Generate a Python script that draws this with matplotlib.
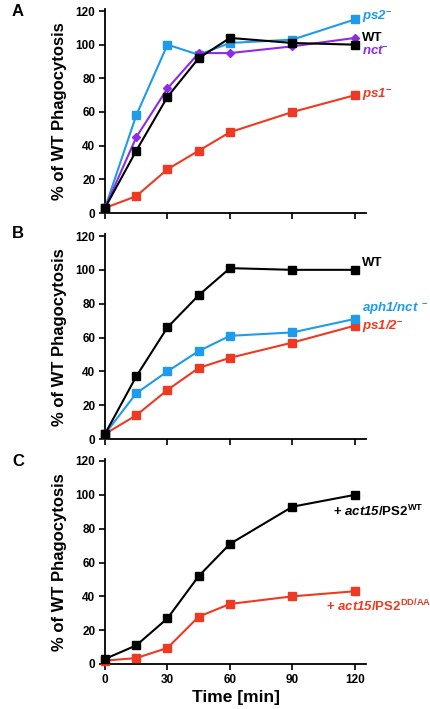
import matplotlib
matplotlib.use('Agg')
import matplotlib.pyplot as plt

plt.rcParams.update({
    'font.family': ['Liberation Sans', 'DejaVu Sans'],
    'font.weight': 'bold',
    'mathtext.fontset': 'custom',
    'mathtext.rm': 'Liberation Sans:bold',
    'mathtext.it': 'Liberation Sans:italic:bold',
    'mathtext.sf': 'Liberation Sans:italic:bold',
    'mathtext.bf': 'Liberation Sans:bold',
})

C_BLACK = '#000000'
C_BLUE = '#1E9BEA'
C_RED = '#EE3A22'
C_PURPLE = '#8E2BE6'

time_min = [0, 15, 30, 45, 60, 90, 120]

# panel A
a_ps2 = [3, 58, 100, 94, 101, 103, 115]
a_wt = [3, 37, 69, 92, 104, 101, 100]
a_nct = [3, 45, 74, 95, 95, 99, 104]
a_ps1 = [3, 10, 26, 37, 48, 60, 70]

# panel B
b_wt = [3, 37, 66, 85, 101, 100, 100]
b_aph1 = [3, 27, 40, 52, 61, 63, 71]
b_ps12 = [3, 14, 29, 42, 48, 57, 67]

# panel C
c_wt = [3, 11, 27, 52, 71, 93, 100]
c_ddaa = [2, 3.5, 9.5, 28, 35.5, 40, 43]

yticks = [0, 20, 40, 60, 80, 100, 120]
xticks = [0, 30, 60, 90, 120]

fig = plt.figure(figsize=(4.31, 7.09), dpi=100)
W, H = 431, 709


def make_ax(y0_px, y120_px):
    left = 105 / W
    width = (366 - 105) / W
    bottom = 1 - y0_px / H
    height = (y0_px - y120_px) / H * 121 / 120
    ax = fig.add_axes([left, bottom, width, height])
    ax.set_xlim(0, 125.3)
    ax.set_ylim(0, 121)
    for s in ('top', 'right'):
        ax.spines[s].set_visible(False)
    for s in ('left', 'bottom'):
        ax.spines[s].set_linewidth(1.3)
    ax.set_yticks(yticks)
    ax.set_xticks(xticks)
    ax.tick_params(direction='out', length=4, width=1.2, labelsize=8.5, pad=3)
    for lab in ax.get_yticklabels() + ax.get_xticklabels():
        lab.set_fontweight('bold')
    ax.set_ylabel('% of WT Phagocytosis', fontsize=12, fontweight='bold', labelpad=6)
    return ax


def series(ax, y, color, marker='s', ms=5.5, z=3):
    ax.plot(time_min, y, color=color, lw=1.5, marker=marker, ms=ms,
            mec=color, mfc=color, clip_on=False, zorder=z)


def lab(ax, x, y, s, color, ha='left'):
    ax.text(x, y, s, color=color, fontsize=9.5, fontweight='bold',
            ha=ha, va='center', clip_on=False)


# ── A ──
axA = make_ax(213, 11)
series(axA, a_ps1, C_RED)
series(axA, a_ps2, C_BLUE)
series(axA, a_nct, C_PURPLE, marker='D', ms=4.5)
series(axA, a_wt, C_BLACK, z=4)
axA.set_xticklabels([])
lab(axA, 123.5, 116.5, r'$\mathsf{ps2}^{-}$', C_BLUE)
lab(axA, 123.5, 104, 'WT', C_BLACK)
lab(axA, 123.5, 96, r'$\mathsf{nct}^{-}$', C_PURPLE)
lab(axA, 123.5, 70, r'$\mathsf{ps1}^{-}$', C_RED)
fig.text(12 / W, 1 - 12 / H, 'A', fontsize=12, fontweight='bold', va='center')

# ── B ──
axB = make_ax(439, 236)
series(axB, b_ps12, C_RED)
series(axB, b_aph1, C_BLUE)
series(axB, b_wt, C_BLACK)
axB.set_xticklabels([])
lab(axB, 123.5, 104, 'WT', C_BLACK)
lab(axB, 123.5, 77, r'$\mathsf{aph1/nct}^{\ -}$', C_BLUE)
lab(axB, 123.5, 66.5, r'$\mathsf{ps1/2}^{-}$', C_RED)
fig.text(12 / W, 1 - 234 / H, 'B', fontsize=12, fontweight='bold', va='center')

# ── C ──
axC = make_ax(664, 461)
series(axC, c_ddaa, C_RED)
series(axC, c_wt, C_BLACK)
axC.set_xlabel('Time [min]', fontsize=12.5, fontweight='bold', labelpad=3)
lab(axC, 131, 90, r'+ $\mathsf{act15}$/PS2$^{\mathrm{WT}}$', C_BLACK, ha='center')
lab(axC, 131.5, 34.3, r'+ $\mathsf{act15}$/PS2$^{\mathrm{DD/AA}}$', C_RED, ha='center')
fig.text(12 / W, 1 - 462 / H, 'C', fontsize=12, fontweight='bold', va='center')

fig.savefig('out.png', dpi=100)
